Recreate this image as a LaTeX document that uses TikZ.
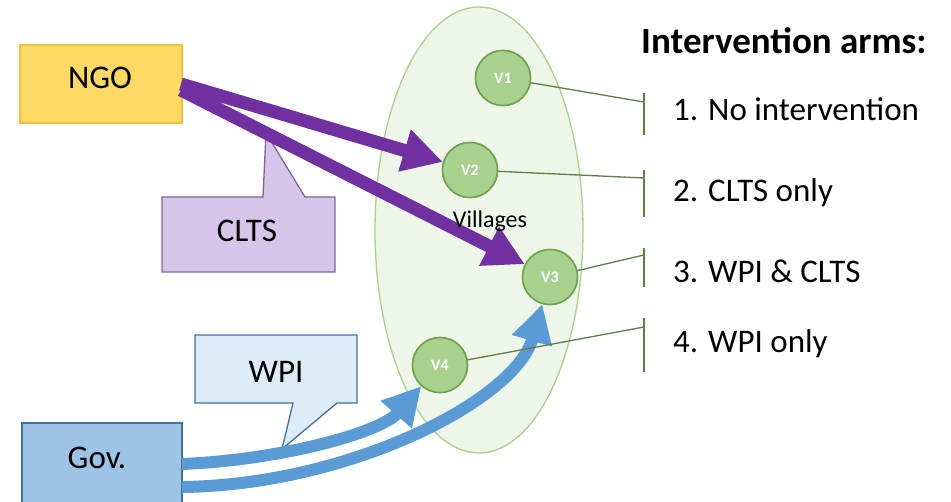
\documentclass[tikz,border=0pt]{standalone}
\usepackage{fontspec}
\setmainfont{Carlito}
\usetikzlibrary{arrows.meta,shapes.geometric}
\definecolor{ngofill}{HTML}{FFD966}
\definecolor{ngodraw}{HTML}{F0C038}
\definecolor{cltsfill}{HTML}{D7C6EA}
\definecolor{cltsdraw}{HTML}{7E649E}
\definecolor{arrpurple}{HTML}{7030A0}
\definecolor{govfill}{HTML}{9DC3E6}
\definecolor{govdraw}{HTML}{41719C}
\definecolor{wpifill}{HTML}{DDEBF7}
\definecolor{arrblue}{HTML}{5B9BD5}
\definecolor{ellfill}{HTML}{EEF5E9}
\definecolor{elldraw}{HTML}{A9D18E}
\definecolor{vfill}{HTML}{A9D18E}
\definecolor{vdraw}{HTML}{6FA04A}
\definecolor{linegreen}{HTML}{5E7F45}
\begin{document}
\begin{tikzpicture}[x=1pt,y=-1pt,
  boxtext/.style={font=\fontsize{33}{38}\selectfont, text=black, inner sep=0pt},
  purplearrow/.style={draw=arrpurple, line width=13pt, -{Triangle[length=40pt,width=41pt]}},
  bluearrow/.style={draw=arrblue, line width=12pt, -{Triangle[length=38pt,width=39pt]}},
  village/.style={circle, draw=vdraw, line width=1.5pt, fill=vfill, minimum size=55pt, inner sep=0pt,
    text=white, font=\fontsize{16}{18}\selectfont\bfseries},
  armline/.style={draw=linegreen, line width=1.3pt},
  armtext/.style={anchor=west, inner sep=0pt, font=\fontsize{33}{38}\selectfont, text=black}
]
\useasboundingbox (0,0) rectangle (951,501);
\fill[white] (0,0) rectangle (951,501);

% villages ellipse
\node[ellipse, draw=elldraw, line width=1.3pt, fill=ellfill, minimum width=208pt, minimum height=446pt, inner sep=0pt] (vill) at (479,230) {};

% CLTS callout
\draw[draw=cltsdraw, line width=1.3pt, fill=cltsfill]
  (162,197) -- (263,197) -- (266,133) -- (305,197) -- (335,197) -- (335,272) -- (162,272) -- cycle;
\node[boxtext] (clts) at (247,231) {CLTS};

% WPI callout
\draw[draw=govdraw, line width=1.3pt, fill=wpifill]
  (195,335) -- (357,335) -- (357,403) -- (337,403) -- (282,449) -- (293,403) -- (195,403) -- cycle;
\node[boxtext] (wpi) at (276,372) {WPI};

% NGO and Gov boxes
\node[draw=ngodraw, line width=1.3pt, fill=ngofill, minimum width=162pt, minimum height=78pt, inner sep=0pt] (ngo) at (101,84) {};
\node[boxtext] (ngot) at (100,78) {NGO};
\node[draw=govdraw, line width=1.3pt, fill=govfill, minimum width=160pt, minimum height=84pt, inner sep=0pt] (gov) at (102,465) {};
\node[boxtext] (govt) at (97,458) {Gov.};

% village nodes (positions)
\node[village] (v1) at (503,78) {V1};
\node[village] (v2) at (470,170) {V2};
\node[village] (v3) at (550,277) {V3};
\node[village] (v4) at (440,365) {V4};

% purple arrows
\coordinate (p1) at (181,84);
\coordinate (p2) at (181,90);
\draw[purplearrow] (p1) -- (v2);
\draw[purplearrow] (p2) -- (v3);

% blue arrows
\coordinate (b1) at (182,464);
\coordinate (b2) at (182,487);
\draw[bluearrow] (b1) .. controls (280,460) and (380,433) .. (v4);
\draw[bluearrow] (b2) .. controls (350,485) and (515,400) .. (v3);

% arm ticks and connectors
\coordinate (a1) at (644,102);
\coordinate (a2) at (644,178);
\coordinate (a3) at (644,255);
\coordinate (a4) at (644,327);
\draw[armline] (644,93) -- (644,135);
\draw[armline] (644,170) -- (644,217);
\draw[armline] (644,248) -- (644,287);
\draw[armline] (644,318) -- (644,372);
\draw[armline] (v1) -- (a1);
\draw[armline] (v2) -- (a2);
\draw[armline] (v3) -- (a3);
\draw[armline] (v4) -- (a4);

% redraw village circles on top
\node[village] at (v1) {V1};
\node[village] at (v2) {V2};
\node[village] at (v3) {V3};
\node[village] at (v4) {V4};

\node[font=\fontsize{24}{28}\selectfont, inner sep=0pt] (villtext) at (490,221) {Villages};

% legend
\node[anchor=west, inner sep=0pt, font=\fontsize{37}{42}\selectfont\bfseries] (head) at (641,41) {Intervention arms:};
\node[armtext] (t1) at (673,109) {1. No intervention};
\node[armtext] (t2) at (673,193) {2. CLTS only};
\node[armtext] (t3) at (673,271) {3. WPI \& CLTS};
\node[armtext] (t4) at (673,344) {4. WPI only};
\end{tikzpicture}
\end{document}
